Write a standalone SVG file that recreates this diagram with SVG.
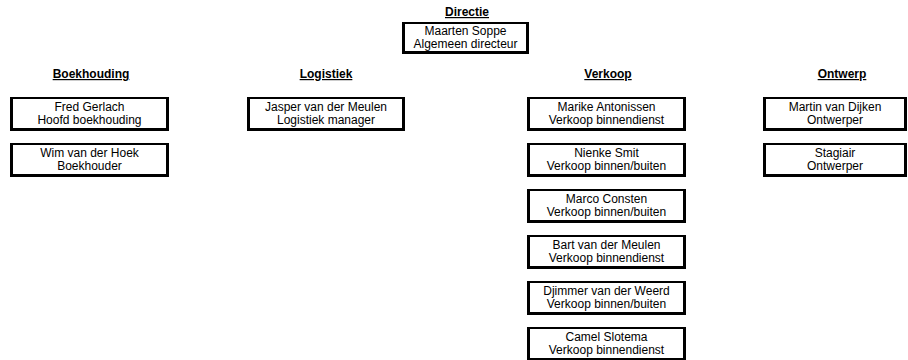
<svg xmlns="http://www.w3.org/2000/svg" width="908" height="360" viewBox="0 0 908 360">
<style>
.bg{fill:#ffffff}
.edge{fill:#000000}
.fill{fill:#ffffff}
text{font-family:"Liberation Sans",Arial,sans-serif;fill:#000000;text-anchor:middle}
.h{font-size:12px;font-weight:bold;text-decoration:underline}
.t{font-size:12px}
</style>
<rect class="bg" x="0" y="0" width="908" height="360"/>
<g id="connectors"></g>
<g id="hdr-directie"><text class="h" x="467" y="16">Directie</text></g>
<g id="directie"><rect class="edge" x="402" y="22" width="127" height="32"/><rect class="fill" x="405" y="24" width="121" height="27"/><text class="t" x="465.5" y="35">Maarten Soppe</text><text class="t" x="465.5" y="48">Algemeen directeur</text></g>
<g id="hdr-boekhouding"><text class="h" x="91" y="78">Boekhouding</text></g>
<g id="hdr-logistiek"><text class="h" x="326" y="78">Logistiek</text></g>
<g id="hdr-verkoop"><text class="h" x="608" y="78">Verkoop</text></g>
<g id="hdr-ontwerp"><text class="h" x="842" y="78">Ontwerp</text></g>
<g id="fred"><rect class="edge" x="10" y="97" width="159" height="34"/><rect class="fill" x="13" y="99" width="153" height="29"/><text class="t" x="89.5" y="111">Fred Gerlach</text><text class="t" x="89.5" y="124">Hoofd boekhouding</text></g>
<g id="wim"><rect class="edge" x="10" y="143" width="159" height="34"/><rect class="fill" x="13" y="145" width="153" height="29"/><text class="t" x="89.5" y="157">Wim van der Hoek</text><text class="t" x="89.5" y="170">Boekhouder</text></g>
<g id="jasper"><rect class="edge" x="247" y="97" width="158" height="34"/><rect class="fill" x="250" y="99" width="152" height="29"/><text class="t" x="326" y="111">Jasper van der Meulen</text><text class="t" x="326" y="124">Logistiek manager</text></g>
<g id="marike"><rect class="edge" x="527" y="97" width="159" height="34"/><rect class="fill" x="530" y="99" width="153" height="29"/><text class="t" x="606.5" y="111">Marike Antonissen</text><text class="t" x="606.5" y="124">Verkoop binnendienst</text></g>
<g id="nienke"><rect class="edge" x="527" y="143" width="159" height="34"/><rect class="fill" x="530" y="145" width="153" height="29"/><text class="t" x="606.5" y="157">Nienke Smit</text><text class="t" x="606.5" y="170">Verkoop binnen/buiten</text></g>
<g id="marco"><rect class="edge" x="527" y="189" width="159" height="34"/><rect class="fill" x="530" y="191" width="153" height="29"/><text class="t" x="606.5" y="203">Marco Consten</text><text class="t" x="606.5" y="216">Verkoop binnen/buiten</text></g>
<g id="bart"><rect class="edge" x="527" y="235" width="159" height="34"/><rect class="fill" x="530" y="237" width="153" height="29"/><text class="t" x="606.5" y="249">Bart van der Meulen</text><text class="t" x="606.5" y="262">Verkoop binnendienst</text></g>
<g id="djimmer"><rect class="edge" x="527" y="281" width="159" height="34"/><rect class="fill" x="530" y="283" width="153" height="29"/><text class="t" x="606.5" y="295">Djimmer van der Weerd</text><text class="t" x="606.5" y="308">Verkoop binnen/buiten</text></g>
<g id="camel"><rect class="edge" x="527" y="327" width="159" height="34"/><rect class="fill" x="530" y="329" width="153" height="29"/><text class="t" x="606.5" y="341">Camel Slotema</text><text class="t" x="606.5" y="354">Verkoop binnendienst</text></g>
<g id="martin"><rect class="edge" x="763" y="97" width="144" height="34"/><rect class="fill" x="766" y="99" width="138" height="29"/><text class="t" x="835" y="111">Martin van Dijken</text><text class="t" x="835" y="124">Ontwerper</text></g>
<g id="stagiair"><rect class="edge" x="763" y="143" width="144" height="34"/><rect class="fill" x="766" y="145" width="138" height="29"/><text class="t" x="835" y="157">Stagiair</text><text class="t" x="835" y="170">Ontwerper</text></g>
</svg>
